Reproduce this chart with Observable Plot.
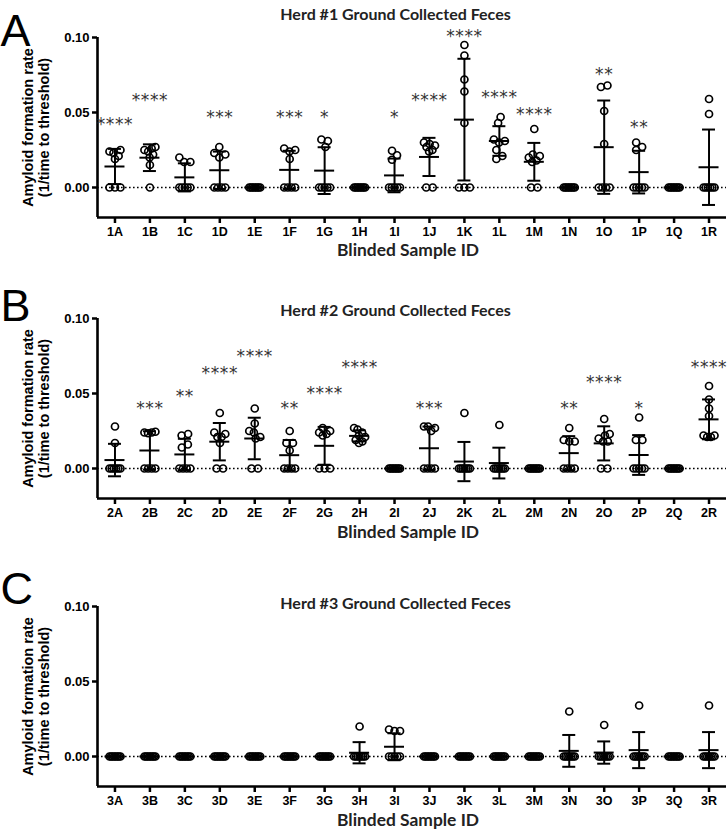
<!DOCTYPE html>
<html>
<head>
<meta charset="utf-8">
<script src="https://cdn.jsdelivr.net/npm/d3@7"></script>
<script src="https://cdn.jsdelivr.net/npm/@observablehq/plot@0.6"></script>
<style>
  body { margin: 0; background: #fff; }
  #chart { width: 727px; height: 834px; position: relative; background: #fff; }
  #chart svg { display: block; }
</style>
</head>
<body>
<div id="chart"></div>
<script>
// ---------- DATA ----------
const yTicks = [0, 0.05, 0.10];
const xAxisTitle = "Blinded Sample ID";
const yAxisTitle = "Amyloid formation rate\n(1/time to threshold)";

// Herd #1
const herd1Title = "Herd #1 Ground Collected Feces";
const herd1Samples = ["1A","1B","1C","1D","1E","1F","1G","1H","1I","1J","1K","1L","1M","1N","1O","1P","1Q","1R"];
const herd1Values = [
  [0.025, 0.024, 0.023, 0.021, 0.019, 0, 0, 0],
  [0.027, 0.026, 0.025, 0.024, 0.022, 0.020, 0.015, 0],
  [0.020, 0.017, 0.017, 0, 0, 0, 0, 0],
  [0.027, 0.023, 0.022, 0.020, 0, 0, 0, 0],
  [0, 0, 0, 0, 0, 0, 0, 0],
  [0.026, 0.025, 0.024, 0.019, 0, 0, 0, 0],
  [0.032, 0.031, 0.027, 0, 0, 0, 0, 0],
  [0, 0, 0, 0, 0, 0, 0, 0],
  [0.0245, 0.0215, 0.0185, 0, 0, 0, 0, 0],
  [0.030, 0.029, 0.028, 0.027, 0.025, 0.024, 0, 0],
  [0.095, 0.088, 0.072, 0.064, 0.043, 0, 0, 0],
  [0.047, 0.043, 0.032, 0.031, 0.030, 0.025, 0.021, 0.019],
  [0.039, 0.022, 0.021, 0.020, 0.018, 0.017, 0, 0],
  [0, 0, 0, 0, 0, 0, 0, 0],
  [0.068, 0.067, 0.051, 0.029, 0, 0, 0, 0],
  [0.030, 0.027, 0.025, 0, 0, 0, 0, 0],
  [0, 0, 0, 0, 0, 0, 0, 0],
  [0.059, 0.049, 0, 0, 0, 0, 0, 0]
];
const herd1Stars = ["****","****","","***","","***","*","","*","****","****","****","****","","**","**","",""];
const herd1StarY = [0.0453, 0.0613, null, 0.0498, null, 0.0498, 0.0498, null, 0.0498, 0.0613, 0.1036, 0.0629, 0.0518, null, 0.0784, 0.0433, null, null];

// Herd #2
const herd2Title = "Herd #2 Ground Collected Feces";
const herd2Samples = ["2A","2B","2C","2D","2E","2F","2G","2H","2I","2J","2K","2L","2M","2N","2O","2P","2Q","2R"];
const herd2Values = [
  [0.028, 0.017, 0, 0, 0, 0, 0, 0],
  [0.0245, 0.024, 0.024, 0.0235, 0, 0, 0, 0],
  [0.023, 0.022, 0.016, 0.014, 0, 0, 0, 0],
  [0.037, 0.024, 0.023, 0.021, 0.021, 0.017, 0, 0],
  [0.040, 0.030, 0.025, 0.024, 0.021, 0.020, 0, 0],
  [0.025, 0.017, 0.017, 0.012, 0, 0, 0, 0],
  [0.027, 0.025, 0.024, 0.023, 0.022, 0, 0, 0],
  [0.027, 0.026, 0.024, 0.022, 0.021, 0.019, 0.018, 0.017],
  [0, 0, 0, 0, 0, 0, 0, 0],
  [0.028, 0.028, 0.027, 0.025, 0, 0, 0, 0],
  [0.037, 0, 0, 0, 0, 0, 0, 0],
  [0.029, 0, 0, 0, 0, 0, 0, 0],
  [0, 0, 0, 0, 0, 0, 0, 0],
  [0.027, 0.019, 0.018, 0.018, 0, 0, 0, 0],
  [0.033, 0.023, 0.022, 0.020, 0.018, 0.018, 0, 0],
  [0.034, 0.019, 0.019, 0, 0, 0, 0, 0],
  [0, 0, 0, 0, 0, 0, 0, 0],
  [0.055, 0.046, 0.040, 0.035, 0.022, 0.022, 0.021, 0.021]
];
const herd2Stars = ["","***","**","****","****","**","****","****","","***","","","","**","****","*","","****"];
const herd2StarY = [null, 0.0433, 0.0513, 0.0662, 0.0778, 0.0433, 0.0533, 0.0707, null, 0.0433, null, null, null, 0.0433, 0.0602, 0.0433, null, 0.0707];

// Herd #3
const herd3Title = "Herd #3 Ground Collected Feces";
const herd3Samples = ["3A","3B","3C","3D","3E","3F","3G","3H","3I","3J","3K","3L","3M","3N","3O","3P","3Q","3R"];
const herd3Values = [
  [0, 0, 0, 0, 0, 0, 0, 0],
  [0, 0, 0, 0, 0, 0, 0, 0],
  [0, 0, 0, 0, 0, 0, 0, 0],
  [0, 0, 0, 0, 0, 0, 0, 0],
  [0, 0, 0, 0, 0, 0, 0, 0],
  [0, 0, 0, 0, 0, 0, 0, 0],
  [0, 0, 0, 0, 0, 0, 0, 0],
  [0.020, 0, 0, 0, 0, 0, 0, 0],
  [0.018, 0.017, 0.017, 0, 0, 0, 0, 0],
  [0, 0, 0, 0, 0, 0, 0, 0],
  [0, 0, 0, 0, 0, 0, 0, 0],
  [0, 0, 0, 0, 0, 0, 0, 0],
  [0, 0, 0, 0, 0, 0, 0, 0],
  [0.030, 0, 0, 0, 0, 0, 0, 0],
  [0.021, 0, 0, 0, 0, 0, 0, 0],
  [0.034, 0, 0, 0, 0, 0, 0, 0],
  [0, 0, 0, 0, 0, 0, 0, 0],
  [0.034, 0, 0, 0, 0, 0, 0, 0]
];
const herd3Stars = ["","","","","","","","","","","","","","","","","",""];
const herd3StarY = herd3Stars.map(() => null);

// ---------- LAYOUT ----------
// GraphPad-style scatter: spread overlapping replicates sideways (pixel offsets)
function spreadOffsets(vals, pxPerUnit) {
  const n = vals.length;
  const order = d3.range(n).sort((a, b) => vals[a] - vals[b]);
  const off = new Array(n).fill(0);
  const placed = [];
  const minD = 6.5, cap = 5.5;
  for (const i of order) {
    const y = vals[i] * pxPerUnit;
    for (let k = 0; k < 600; k++) {
      const c = (k % 2 ? 1 : -1) * Math.ceil(k / 2) * 0.5;
      if (placed.every(p => Math.hypot(c - off[p], y - vals[p] * pxPerUnit) >= minD)) { off[i] = c; break; }
    }
    placed.push(i);
  }
  const clusters = [];
  let cur = [order[0]];
  for (let k = 1; k < n; k++) {
    const a = order[k - 1], b = order[k];
    if ((vals[b] - vals[a]) * pxPerUnit < minD) cur.push(b);
    else { clusters.push(cur); cur = [b]; }
  }
  clusters.push(cur);
  for (const c of clusters) {
    const [lo, hi] = d3.extent(c, i => off[i]);
    const mid = (lo + hi) / 2, span = hi - lo;
    const s = span > 2 * cap ? (2 * cap) / span : 1;
    for (const i of c) off[i] = (off[i] - mid) * s;
  }
  return off;
}

function panel(cfg) {
  const {samples, values, stars, starY, title, letter, height, mt, mb, titleDy, letterDy, xlabDy} = cfg;
  const width = 727, ml = 97, mr = 1;
  const step = (width - ml - mr) / samples.length;
  const pxPerUnit = (height - mt - mb) / 0.12;
  const points = [], stats = [];
  samples.forEach((s, i) => {
    const v = values[i];
    const offs = spreadOffsets(v, pxPerUnit);
    v.forEach((val, j) => points.push({i, v: val, x: i + offs[j] / step}));
    const m = d3.mean(v), sd = d3.deviation(v) || 0;
    stats.push({i, m, lo: m - sd, hi: m + sd});
  });
  const starData = samples.map((s, i) => ({i, t: stars[i], y: starY[i]})).filter(d => d.t);
  const hw = 10 / step, cw = 6.5 / step;
  const svg = Plot.plot({
    width, height,
    marginLeft: ml, marginRight: mr, marginTop: mt, marginBottom: mb,
    x: {domain: [-0.5, samples.length - 0.5]},
    y: {domain: [-0.02, 0.10]},
    style: {fontFamily: "'Liberation Sans', Arial, sans-serif", color: "black", background: "white", overflow: "visible"},
    marks: [
      Plot.ruleY([0], {strokeDasharray: "1.6,2.4", strokeWidth: 1.6, stroke: "black"}),
      Plot.axisY(yTicks, {tickFormat: d3.format(".2f"), tickSize: 5, tickPadding: 3, strokeWidth: 2.5, fontSize: 13, fontWeight: "bold", label: null}),
      Plot.axisX(d3.range(samples.length), {tickFormat: i => samples[i], tickSize: 6, tickPadding: 4, strokeWidth: 2.5, fontSize: 12.5, fontWeight: "bold", label: null}),
      Plot.ruleX([-0.5], {strokeWidth: 2.6, stroke: "black"}),
      Plot.ruleY([-0.02], {strokeWidth: 2.6, stroke: "black"}),
      Plot.dot(points, {x: "x", y: "v", r: 3.5, stroke: "black", strokeWidth: 1.7, fill: "none"}),
      Plot.ruleX(stats, {x: "i", y1: "lo", y2: "hi", strokeWidth: 2, stroke: "black"}),
      Plot.ruleY(stats, {y: "m", x1: d => d.i - hw, x2: d => d.i + hw, strokeWidth: 2, stroke: "black"}),
      Plot.ruleY(stats, {y: "hi", x1: d => d.i - cw, x2: d => d.i + cw, strokeWidth: 2, stroke: "black"}),
      Plot.ruleY(stats, {y: "lo", x1: d => d.i - cw, x2: d => d.i + cw, strokeWidth: 2, stroke: "black"}),
      Plot.text(starData, {x: "i", y: "y", text: "t", fontSize: 17, fontFamily: "'DejaVu Sans', sans-serif", fontWeight: "normal", dy: 4.6, fill: "#333"}),
      Plot.text([title], {frameAnchor: "top", text: d => d, dx: -16.5, dy: titleDy, fontFamily: "Lato, 'Open Sans', sans-serif", fontWeight: "bold", fontSize: 16, fill: "#222"}),
      Plot.text([xAxisTitle], {frameAnchor: "bottom", text: d => d, dx: -4, dy: xlabDy, fontFamily: "Lato, 'Open Sans', sans-serif", fontWeight: "bold", fontSize: 17.4, fill: "#222"}),
      Plot.text([yAxisTitle], {frameAnchor: "left", text: d => d, dx: -62, rotate: -90, textAnchor: "middle", fontSize: 14.5, fontWeight: "bold", lineHeight: 1.1, fill: "black"}),
      Plot.text([letter], {frameAnchor: "top-left", text: d => d, dx: -97, dy: letterDy, textAnchor: "start", lineAnchor: "bottom", fontSize: 45, fontWeight: "normal", fill: "black"})
    ]
  });
  d3.select(svg).selectAll("text").filter(function () { return /^\*+$/.test(this.textContent); })
    .style("letter-spacing", "0.6px");
  return svg;
}

const chart = document.getElementById("chart");
chart.appendChild(panel({samples: herd1Samples, values: herd1Values, stars: herd1Stars, starY: herd1StarY, title: herd1Title, letter: "A",
  height: 268, mt: 37, mb: 51, titleDy: -29, letterDy: 8, xlabDy: 38}));
chart.appendChild(panel({samples: herd2Samples, values: herd2Values, stars: herd2Stars, starY: herd2StarY, title: herd2Title, letter: "B",
  height: 285, mt: 50, mb: 55, titleDy: -14, letterDy: 2, xlabDy: 39}));
chart.appendChild(panel({samples: herd3Samples, values: herd3Values, stars: herd3Stars, starY: herd3StarY, title: herd3Title, letter: "C",
  height: 281, mt: 53, mb: 48, titleDy: -8.5, letterDy: -3, xlabDy: 39}));
</script>
</body>
</html>
